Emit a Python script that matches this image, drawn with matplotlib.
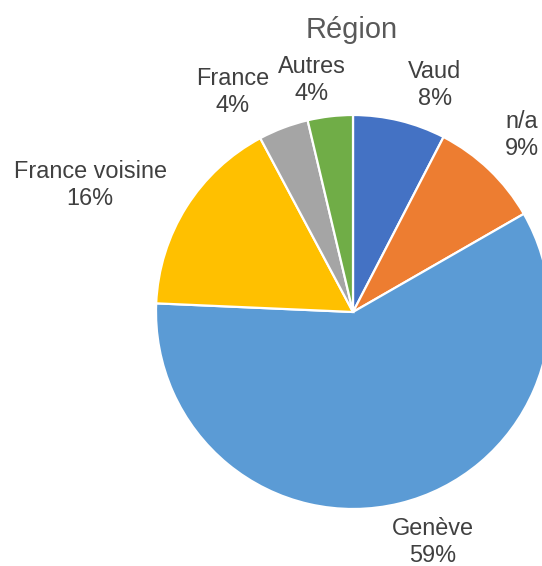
import matplotlib
matplotlib.use("Agg")
import matplotlib.pyplot as plt

plt.rcParams['font.family'] = ['Liberation Sans', 'DejaVu Sans']

title = "Région"
categories = ["Vaud", "n/a", "Genève", "France voisine", "France", "Autres"]
values = [7.6, 9.1, 59.0, 16.5, 4.1, 3.7]
pct_labels = ["8%", "9%", "59%", "16%", "4%", "4%"]
colors = ["#4472C4", "#ED7D31", "#5B9BD5", "#FFC000", "#A5A5A5", "#70AD47"]

# label offsets from the pie centre (pixels; x right, y up)
label_offsets = [(82, 227), (169, 177), (80, -230), (-263, 127), (-120, 220), (-41, 232)]

W, H = 542, 566
fig = plt.figure(figsize=(W / 100, H / 100), dpi=100)
ax = fig.add_axes([0, 0, 1, 1])

cx, cy, r = 353, H - 312, 197
ax.pie(values, colors=colors, startangle=90, counterclock=False,
       center=(cx, cy), radius=r, frame=True,
       wedgeprops=dict(edgecolor="white", linewidth=1.6))
ax.set_xlim(0, W)
ax.set_ylim(0, H)
ax.set_aspect("equal")
ax.axis("off")

for cat, pct, (dx, dy) in zip(categories, pct_labels, label_offsets):
    ax.text(cx + dx, cy + dy, f"{cat}\n{pct}", ha="center", va="center",
            fontsize=16.9, color="#404040", linespacing=1.17)

ax.text(352, H - 30, title, ha="center", va="center", fontsize=20.9, color="#595959")

fig.savefig("out.png", dpi=100)
